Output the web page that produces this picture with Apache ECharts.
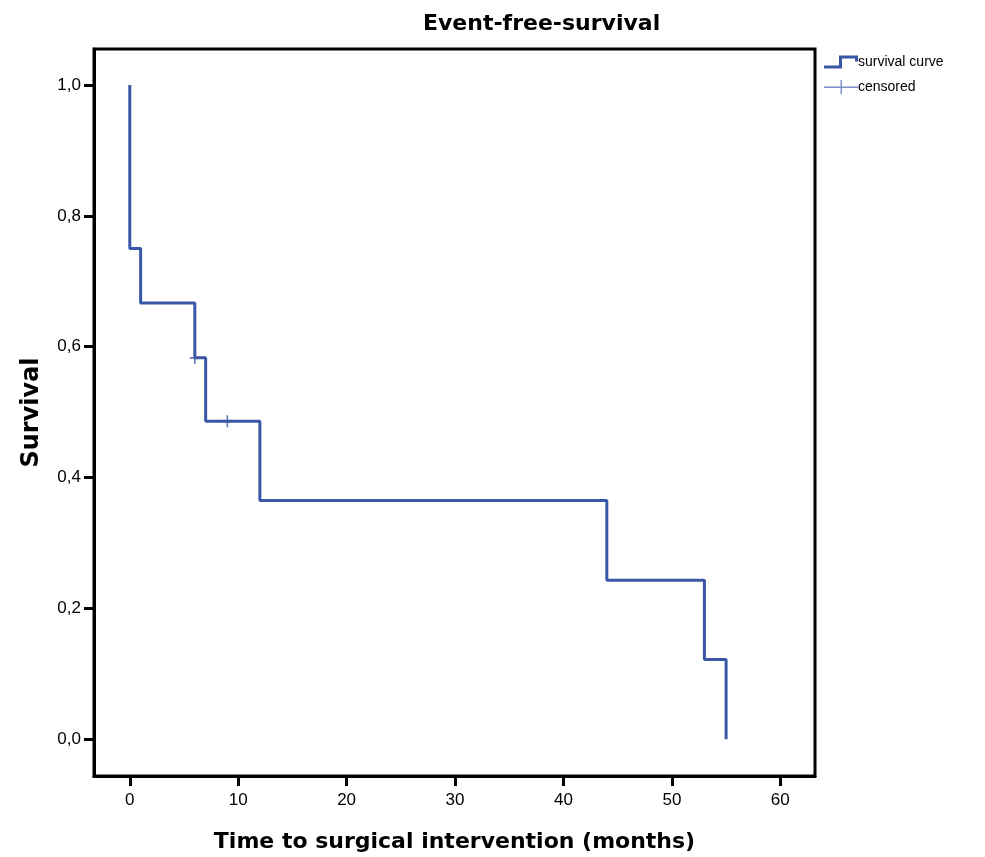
<!DOCTYPE html>
<html lang="en">
<head>
    <meta charset="utf-8">
    <title>Event-free-survival</title>
    <script type="text/javascript" src="https://cdn.jsdelivr.net/npm/echarts@6/dist/echarts.min.js"></script>
    <style type="text/css">
        html, body { margin: 0; padding: 0; background: #ffffff; }
        #main { width: 985px; height: 857px; }
    </style>
</head>
<body>
<div id="main"></div>
<script type="text/javascript">
    // Kaplan-Meier steps
    var times = [0, 0, 1, 6, 7, 12, 44, 53, 55];
    var survival = [1.0, 0.75, 0.667, 0.583, 0.486, 0.365, 0.243, 0.122, 0.0];
    // censored observations
    var censorTimes = [6, 9];
    var censorSurv = [0.583, 0.486];
    var xTicks = [0, 10, 20, 30, 40, 50, 60];
    var yTicks = [0, 0.2, 0.4, 0.6, 0.8, 1.0];

    var curveData = [];
    for (var i = 0; i < times.length; i++) {
        curveData.push([times[i], survival[i]]);
    }
    var censorData = [];
    for (var j = 0; j < censorTimes.length; j++) {
        censorData.push([censorTimes[j], censorSurv[j]]);
    }

    var blue = '#3a56a6';
    var font = 'Liberation Sans, Arial, sans-serif';
    var boldFont = 'DejaVu Sans, Verdana, sans-serif';
    // legend / marker shapes (filled outlines, so they look like strokes)
    var stepIcon = 'path://M0,12L15,12L15,2L34,2L34,8L31,8L31,5L18,5L18,15L0,15Z';
    var legendPlus = 'path://M0,6.5L16.5,6.5L16.5,0L18,0L18,6.5L34,6.5L34,8L18,8L18,14L16.5,14L16.5,8L0,8Z';
    var plusIcon = 'path://M-0.8,-6L0.8,-6L0.8,-0.8L5,-0.8L5,0.8L0.8,0.8L0.8,6L-0.8,6L-0.8,0.8L-5,0.8L-5,-0.8L-0.8,-0.8Z';

    var myChart = echarts.init(document.getElementById('main'));

    var option = {
        backgroundColor: '#ffffff',
        animation: false,
        title: {
            text: 'Event-free-survival',
            left: 418,
            top: 8,
            textStyle: {
                fontFamily: boldFont,
                fontSize: 22,
                fontWeight: 'bold',
                color: '#000000'
            }
        },
        legend: {
            orient: 'vertical',
            left: 819,
            top: 50,
            itemGap: 11,
            itemWidth: 34,
            itemHeight: 15,
            textStyle: {
                fontFamily: font,
                fontSize: 14,
                color: '#000000',
                padding: [0, 0, 0, -5]
            },
            data: [
                {name: 'survival curve', icon: stepIcon, itemStyle: {color: blue}},
                {name: 'censored', icon: legendPlus, itemStyle: {color: '#5b73b8'}}
            ]
        },
        grid: {
            left: 94,
            top: 49,
            right: 170,
            bottom: 81,
            containLabel: false,
            outerBoundsMode: 'none',
            show: true,
            borderColor: '#000000',
            borderWidth: 3,
            backgroundColor: '#ffffff'
        },
        xAxis: {
            type: 'value',
            min: -3.3,
            max: 63.2,
            name: 'Time to surgical intervention (months)',
            nameLocation: 'middle',
            nameGap: 55,
            nameTextStyle: {
                fontFamily: boldFont,
                fontSize: 22,
                fontWeight: 'bold',
                color: '#000000'
            },
            axisLine: {show: true, onZero: false, lineStyle: {color: '#000000', width: 3}},
            axisTick: {show: true, customValues: xTicks, length: 10, lineStyle: {color: '#000000', width: 3}},
            axisLabel: {
                customValues: xTicks,
                fontFamily: font,
                fontSize: 17,
                color: '#000000',
                margin: 16
            },
            splitLine: {show: false}
        },
        yAxis: {
            type: 'value',
            min: -0.056,
            max: 1.055,
            name: 'Survival',
            nameLocation: 'middle',
            nameGap: 50,
            nameTextStyle: {
                fontFamily: boldFont,
                fontSize: 24,
                fontWeight: 'bold',
                color: '#000000'
            },
            axisLine: {show: true, onZero: false, lineStyle: {color: '#000000', width: 3}},
            axisTick: {show: true, customValues: yTicks, length: 10, lineStyle: {color: '#000000', width: 3}},
            axisLabel: {
                customValues: yTicks,
                fontFamily: font,
                fontSize: 17,
                color: '#000000',
                margin: 13,
                formatter: function (v) {
                    return v.toFixed(1).replace('.', ',');
                }
            },
            splitLine: {show: false}
        },
        series: [{
            name: 'survival curve',
            type: 'line',
            step: 'end',
            showSymbol: false,
            symbol: 'none',
            lineStyle: {color: blue, width: 3},
            itemStyle: {color: blue},
            data: curveData
        }, {
            name: 'censored',
            type: 'scatter',
            symbol: plusIcon,
            symbolSize: [10, 12],
            itemStyle: {color: blue},
            data: censorData
        }]
    };

    myChart.setOption(option);
</script>
</body>
</html>
